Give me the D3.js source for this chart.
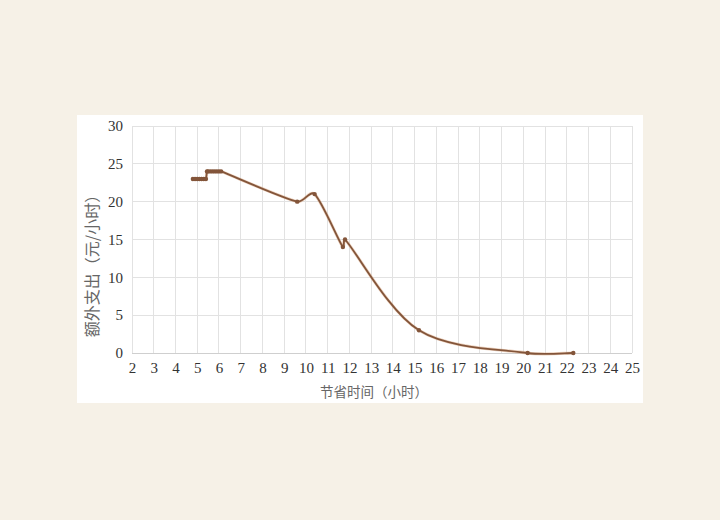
<!DOCTYPE html>
<html>
<head>
<meta charset="utf-8">
<script src="https://cdn.jsdelivr.net/npm/d3@7"></script>
<style>
  html, body { margin: 0; padding: 0; background: #f6f1e7; }
  svg { display: block; }
</style>
</head>
<body>
<div id="chart"></div>
<script>
// DATA
const hoursSaved = [4.8, 4.9, 5.0, 5.1, 5.2, 5.3, 5.4, 5.45, 5.5, 5.6, 5.7, 5.8, 5.9, 6.0, 6.1, 9.6, 10.4, 11.7, 11.8, 15.2, 20.2, 22.3];
const extraCost = [23, 23, 23, 23, 23, 23, 23, 24, 24, 24, 24, 24, 24, 24, 24, 20, 21, 14, 15, 3, 0, 0];
const xTicks = d3.range(2, 26);
const yTicks = [0, 5, 10, 15, 20, 25, 30];
const xTitle = '节省时间（小时）';
const yTitle = '额外支出（元/小时）';

// SETTINGS
const width = 720, height = 520;
const panel = { x: 77, y: 115, w: 566, h: 288 };
const plot = { left: 132, right: 632, top: 126, bottom: 353 };
const lineColor = '#83553a';
const gridColor = '#e2e2e2';
const numFont = '"Liberation Serif", "DejaVu Serif", serif';
const cjkFont = '"Noto Sans CJK SC", sans-serif';

const data = hoursSaved.map((h, i) => ({ h, c: extraCost[i] }));

const svg = d3.select('#chart').append('svg')
    .attr('width', width)
    .attr('height', height);

svg.append('rect')
    .attr('width', width).attr('height', height)
    .attr('fill', '#f6f1e7');

svg.append('rect')
    .attr('x', panel.x).attr('y', panel.y)
    .attr('width', panel.w).attr('height', panel.h)
    .attr('fill', '#ffffff');

// SCALES
const x = d3.scaleLinear().domain([2, 25]).range([plot.left, plot.right]);
const y = d3.scaleLinear().domain([0, 30]).range([plot.bottom, plot.top]);

// GRID
const grid = svg.append('g');
grid.selectAll('.vgrid').data(xTicks).enter().append('line')
    .attr('x1', d => x(d)).attr('x2', d => x(d))
    .attr('y1', plot.top).attr('y2', plot.bottom)
    .attr('stroke', gridColor).attr('stroke-width', 1)
    .attr('shape-rendering', 'crispEdges');
grid.selectAll('.hgrid').data(yTicks).enter().append('line')
    .attr('x1', plot.left).attr('x2', plot.right)
    .attr('y1', d => y(d)).attr('y2', d => y(d))
    .attr('stroke', d => d === 0 ? '#cfcfcf' : gridColor).attr('stroke-width', 1)
    .attr('shape-rendering', 'crispEdges');

// AXES
const xAxis = d3.axisBottom(x).tickValues(xTicks).tickSize(0).tickPadding(9).tickFormat(d3.format('d'));
const yAxis = d3.axisLeft(y).tickValues(yTicks).tickSize(0).tickPadding(9).tickFormat(d3.format('d'));

const xAxisGroup = svg.append('g')
    .attr('transform', `translate(0, ${plot.bottom})`)
    .call(xAxis);
const yAxisGroup = svg.append('g')
    .attr('transform', `translate(${plot.left}, 0)`)
    .call(yAxis);

[xAxisGroup, yAxisGroup].forEach(g => {
    g.select('.domain').remove();
    g.selectAll('text')
        .attr('fill', '#333')
        .style('font-family', numFont)
        .style('font-size', '15px');
});

// TITLES
svg.append('text')
    .attr('x', 374).attr('y', 397)
    .attr('text-anchor', 'middle')
    .attr('fill', '#666')
    .style('font-family', cjkFont)
    .style('font-size', '13.5px')
    .text(xTitle);

svg.append('text')
    .attr('transform', 'translate(98, 262) rotate(-90)')
    .attr('text-anchor', 'middle')
    .attr('fill', '#666')
    .style('font-family', cjkFont)
    .style('font-size', '16px')
    .text(yTitle);

// SMOOTH LINE: catmull-rom tangents, clamped to a third of each segment
// so short steps don't loop (spreadsheet-style smoothing)
function smoothPath(pts) {
    const p = d3.path();
    const n = pts.length;
    p.moveTo(pts[0][0], pts[0][1]);
    for (let i = 0; i < n - 1; i++) {
        const p0 = pts[Math.max(i - 1, 0)], p1 = pts[i];
        const p2 = pts[i + 1], p3 = pts[Math.min(i + 2, n - 1)];
        const seg = Math.hypot(p2[0] - p1[0], p2[1] - p1[1]);
        let t1 = [(p2[0] - p0[0]) / 6, (p2[1] - p0[1]) / 6];
        let t2 = [(p3[0] - p1[0]) / 6, (p3[1] - p1[1]) / 6];
        const clamp = t => {
            const len = Math.hypot(t[0], t[1]);
            const max = seg / 3;
            return len > max ? [t[0] * max / len, t[1] * max / len] : t;
        };
        t1 = clamp(t1);
        t2 = clamp(t2);
        p.bezierCurveTo(p1[0] + t1[0], p1[1] + t1[1], p2[0] - t2[0], p2[1] - t2[1], p2[0], p2[1]);
    }
    return p.toString();
}

const pathD = smoothPath(data.map(d => [x(d.h), y(d.c)]));

svg.append('path')
    .attr('fill', 'none')
    .attr('stroke', '#d9a47c')
    .attr('stroke-width', 3)
    .attr('opacity', 0.5)
    .attr('d', pathD);

svg.append('path')
    .attr('fill', 'none')
    .attr('stroke', lineColor)
    .attr('stroke-width', 1.8)
    .attr('d', pathD);

svg.selectAll('.pt').data(data).enter().append('circle')
    .attr('cx', d => x(d.h))
    .attr('cy', d => y(d.c))
    .attr('r', 2.2)
    .attr('fill', lineColor);
</script>
</body>
</html>
